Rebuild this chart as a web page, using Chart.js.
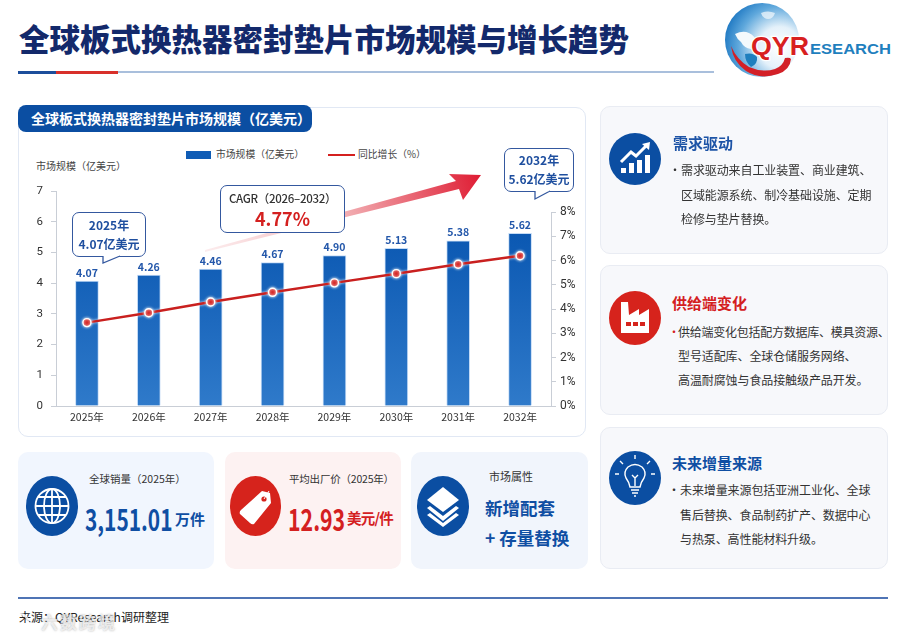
<!DOCTYPE html>
<html lang="zh">
<head>
<meta charset="utf-8">
<title>全球板式换热器密封垫片市场规模与增长趋势</title>
<script src="https://cdn.jsdelivr.net/npm/chart.js@4"></script>
<style>
html, body { margin: 0; padding: 0; background: #fff; }
body { width: 900px; height: 635px; position: relative; overflow: hidden; font-family: "Noto Sans CJK SC", "Noto Sans", sans-serif; color: #333; }
.box, .t, svg, canvas { position: absolute; }
.t { white-space: nowrap; line-height: 1; transform-origin: left center; }
.box { box-sizing: border-box; border-radius: 10px; }
.side { left: 600px; width: 288px; background: #f7f8fb; border: 1px solid #e9ecf3; }
.head { font-size: 15px; font-weight: 700; }
.body { font-size: 12px; color: #333; letter-spacing: -0.1px; }
.call { background: #fff; border: 1.3px solid #34589f; border-radius: 7px; }
.blue { color: #0f4ea3; }
.red { color: #d4201f; }
</style>
</head>
<body>
<!-- title -->
<div class="t" style="left:19px;top:23px;font-size:30.5px;font-weight:900;color:#13296b">全球板式换热器密封垫片市场规模与增长趋势</div>
<div class="box" style="left:18px;top:71px;width:696px;height:2px;border-radius:0;background:#a9bfdc"></div>
<div class="box" style="left:18px;top:71px;width:38px;height:3px;border-radius:0;background:#1c4e9b"></div>
<div class="box" style="left:56px;top:71px;width:62px;height:3px;border-radius:0;background:#d8302a"></div>

<!-- logo -->
<svg style="left:720px;top:0" width="180" height="84" viewBox="720 0 180 84">
  <defs>
    <radialGradient id="globe" cx="0.74" cy="0.6" r="0.8">
      <stop offset="0" stop-color="#ffffff"/><stop offset="0.35" stop-color="#e4f1fa"/><stop offset="0.7" stop-color="#5fa8dc"/><stop offset="1" stop-color="#1672bf"/>
    </radialGradient>
  </defs>
  <circle cx="762" cy="40" r="37" fill="url(#globe)"/>
  <path d="M761 13 q7-3 14 0 q-2 6-7 6 q-5 0-7-6z" fill="#e9f3fa" opacity="0.8"/>
  <path d="M735 34 q8-4 14-1 q7 3 6 9 q-5 2-4 7 q-7-1-10-7 q-4-3-6-8z" fill="#f4f9fc"/>
  <path d="M745 54 q8-2 12 3 q1 7-6 10 q-6-5-6-13z" fill="#1f7fbe"/>
  <path d="M731 46 q6 14 18 21 q14 6 26 2 q8-3 10-11 q5-1 6 1 q-1 11-13 15 q-18 6-32-3 q-13-9-15-25z" fill="#d32027"/>
  <text x="751" y="55" font-family="Liberation Sans" font-size="25" font-weight="700" fill="#d8201f" stroke="#fff" stroke-width="2.4" paint-order="stroke" textLength="58" lengthAdjust="spacingAndGlyphs">QYR</text>
  <text x="810" y="54" font-family="Liberation Sans" font-size="15.5" font-weight="700" fill="#1f7fbe" textLength="81" lengthAdjust="spacingAndGlyphs">ESEARCH</text>
</svg>

<!-- main panel -->
<div class="box" style="left:18px;top:107px;width:568px;height:330px;border:1.5px solid #e1e8f4"></div>
<div class="box" style="left:18px;top:105px;width:294px;height:27px;background:#0b4ea2;border-radius:8px"></div>
<div class="t" style="left:31px;top:111px;font-size:14px;font-weight:700;color:#fff">全球板式换热器密封垫片市场规模（亿美元）</div>

<div class="t" style="left:36px;top:161px;font-size:10px;color:#444">市场规模（亿美元）</div>
<div class="box" style="left:186px;top:151px;width:25px;height:8px;border-radius:0;background:#0f5cb5"></div>
<div class="t" style="left:216px;top:150px;font-size:9.8px;color:#444">市场规模（亿美元）</div>
<div class="box" style="left:328px;top:154px;width:27px;height:2px;border-radius:0;background:#d4201f"></div>
<div class="t" style="left:358px;top:150px;font-size:9.8px;color:#444">同比增长（%）</div>

<!-- arrow sits behind the chart -->
<svg style="left:0;top:0" width="900" height="635">
  <defs>
    <linearGradient id="arrowFill" gradientUnits="userSpaceOnUse" x1="205" y1="250" x2="481" y2="176">
      <stop offset="0" stop-color="#f6c9cc" stop-opacity="0.35"/>
      <stop offset="0.5" stop-color="#f2b0b4"/>
      <stop offset="1" stop-color="#df1c33"/>
    </linearGradient>
  </defs>
  <path d="M205 250 L456 181 L449 174 L481 175 L463 200 L459 189 L205 252 Z" fill="url(#arrowFill)"/>
</svg>

<canvas id="marketChart" width="568" height="257" style="left:18px;top:180px"></canvas>

<!-- callouts -->
<div class="box call" style="left:72px;top:212px;width:74px;height:45px"></div>
<svg style="left:100px;top:255px" width="24" height="10"><path d="M3 1 L3 8 L20 1" fill="#fff" stroke="#34589f" stroke-width="1.3"/><path d="M4 0 H19 V1 H4z" fill="#fff"/></svg>
<div class="t" style="left:72px;width:74px;text-align:center;top:219px;font-size:12px;font-weight:700;color:#1f4f9f">2025年</div>
<div class="t" style="left:72px;width:74px;text-align:center;top:238px;font-size:12px;font-weight:700;color:#1f4f9f">4.07亿美元</div>

<div class="box call" style="left:504px;top:148px;width:70px;height:44px"></div>
<svg style="left:532px;top:190px" width="24" height="11"><path d="M3 1 L3 9 L18 1" fill="#fff" stroke="#34589f" stroke-width="1.3"/><path d="M4 0 H17 V1.2 H4z" fill="#fff"/></svg>
<div class="t" style="left:504px;width:70px;text-align:center;top:154px;font-size:12px;font-weight:700;color:#1f4f9f">2032年</div>
<div class="t" style="left:504px;width:70px;text-align:center;top:173px;font-size:12px;font-weight:700;color:#1f4f9f">5.62亿美元</div>

<div class="box call" style="left:220px;top:185px;width:125px;height:48px"></div>
<div class="t" style="left:220px;width:125px;text-align:center;top:193px;font-size:11.5px;letter-spacing:-0.3px;font-weight:500;color:#333">CAGR（2026–2032）</div>
<div class="t" style="left:220px;width:125px;text-align:center;top:209px;font-size:18px;font-weight:700;color:#d4201f">4.77%</div>

<!-- bottom cards -->
<div class="box" style="left:18px;top:452px;width:196px;height:117px;background:#f1f6fe"></div>
<svg style="left:26px;top:476px" width="52" height="60" viewBox="0 0 52 60">
  <ellipse cx="26" cy="30" rx="26" ry="30" fill="#0b4ea2"/>
  <g fill="none" stroke="#fff" stroke-width="1.8">
    <ellipse cx="26" cy="30" rx="16.5" ry="17"/><ellipse cx="26" cy="30" rx="8" ry="17"/>
    <path d="M26 13V47M9.5 30H42.5M12 21H40M12 39H40"/>
  </g>
</svg>
<div class="t" style="left:89px;top:474px;font-size:10.5px;color:#333">全球销量（2025年）</div>
<div class="t blue" style="left:85px;top:504px;font-size:29px;font-weight:700;transform:scaleX(0.72)">3,151.01</div>
<div class="t blue" style="left:175px;top:511px;font-size:15px;font-weight:700">万件</div>

<div class="box" style="left:225px;top:452px;width:176px;height:117px;background:#fdf2f2"></div>
<svg style="left:230px;top:476px" width="51" height="60" viewBox="0 0 51 60">
  <ellipse cx="25.5" cy="30" rx="25.5" ry="30" fill="#d6231c"/>
  <path d="M32 15 L40 17 L41 27 L24 48 Q22 49 20 47 L10 38 Q9 36 11 34 Z" fill="#fff"/>
  <circle cx="34" cy="23" r="2.6" fill="#d6231c"/>
  <path d="M34 23 L39 15" stroke="#fff" stroke-width="1"/>
</svg>
<div class="t" style="left:289px;top:474px;font-size:10.5px;letter-spacing:-0.2px;color:#333">平均出厂价（2025年）</div>
<div class="t red" style="left:288px;top:503px;font-size:30px;font-weight:700;transform:scaleX(0.71)">12.93</div>
<div class="t red" style="left:347px;top:511px;font-size:14.5px;font-weight:700;letter-spacing:-0.8px">美元/件</div>

<div class="box" style="left:411px;top:452px;width:177px;height:117px;background:#f1f5fc"></div>
<svg style="left:417px;top:476px" width="52" height="60" viewBox="0 0 52 60">
  <ellipse cx="26" cy="30" rx="26" ry="30" fill="#0b4ea2"/>
  <path d="M26 11 L42 24 L26 36 L10 24 Z" fill="#fff"/>
  <path d="M13 30 L26 40 L39 30 L42 32 L26 45 L10 32 Z" fill="#fff"/>
  <path d="M13 38 L26 48 L39 38 L42 40 L26 52 L10 40 Z" fill="#fff" transform="translate(0,-1)"/>
</svg>
<div class="t" style="left:489px;top:471px;font-size:11px;color:#333">市场属性</div>
<div class="t blue" style="left:485px;top:499px;font-size:17.5px;font-weight:700">新增配套</div>
<div class="t blue" style="left:485px;top:529px;font-size:17.5px;font-weight:700">+ 存量替换</div>

<!-- right cards -->
<div class="box side" style="top:106px;height:148px"></div>
<svg style="left:609px;top:133px" width="52" height="52" viewBox="0 0 52 52">
  <circle cx="26" cy="26" r="26" fill="#0b4ea2"/>
  <path d="M12 40V35H17V40ZM20 40V30H25V40ZM28 40V27H33V40ZM36 40V22H41V40Z" fill="#fff"/>
  <path d="M12 29 L22 19 L27 23 L38 12" fill="none" stroke="#fff" stroke-width="3"/>
  <path d="M33 11 L41 9 L40 17 Z" fill="#fff"/>
</svg>
<div class="t head" style="left:673px;top:135px;color:#1c53a6">需求驱动</div>
<div class="t body" style="left:669px;top:164px">•</div>
<div class="t body" style="left:681px;top:164px">需求驱动来自工业装置、商业建筑、</div>
<div class="t body" style="left:681px;top:189px">区域能源系统、制冷基础设施、定期</div>
<div class="t body" style="left:681px;top:213px">检修与垫片替换。</div>

<div class="box side" style="top:265px;height:150px"></div>
<svg style="left:609px;top:291px" width="52" height="54" viewBox="0 0 52 54">
  <ellipse cx="26" cy="27" rx="26" ry="27" fill="#d6231c"/>
  <path d="M12 42 V11 H19 L20 24 L30 18 V24 L40 18 V42 Z" fill="#fff"/>
  <path d="M17 31H22V35H17ZM24 31H29V35H24ZM31 31H36V35H31Z" fill="#d6231c"/>
</svg>
<div class="t head" style="left:672px;top:295px;color:#d4201f">供给端变化</div>
<div class="t body red" style="left:668px;top:326px">•</div>
<div class="t body" style="left:678px;top:326px;letter-spacing:-0.25px">供给端变化包括配方数据库、模具资源、</div>
<div class="t body" style="left:678px;top:350px">型号适配库、全球仓储服务网络、</div>
<div class="t body" style="left:678px;top:374px">高温耐腐蚀与食品接触级产品开发。</div>

<div class="box side" style="top:427px;height:142px"></div>
<svg style="left:609px;top:451px" width="52" height="54" viewBox="0 0 52 54">
  <ellipse cx="26" cy="27" rx="26" ry="27" fill="#0b4ea2"/>
  <g fill="none" stroke="#fff" stroke-width="1.4">
    <path d="M21 36 Q20 31 17 27 Q14 21 19 16 Q26 11 33 16 Q38 21 35 27 Q32 31 31 36 Z"/>
    <path d="M22 39H30M23 42H29M25 45H27M23 24 L26 27 L29 24 M26 27V35"/>
    <path d="M26 4V8M11 10L14 13M41 10L38 13M6 23H10M46 23H42"/>
  </g>
</svg>
<div class="t head" style="left:672px;top:455px;color:#0f4ea3">未来增量来源</div>
<div class="t body" style="left:668px;top:484px">•</div>
<div class="t body" style="left:680px;top:484px">未来增量来源包括亚洲工业化、全球</div>
<div class="t body" style="left:680px;top:509px">售后替换、食品制药扩产、数据中心</div>
<div class="t body" style="left:680px;top:533px">与热泵、高性能材料升级。</div>

<!-- footer -->
<div class="box" style="left:18px;top:597px;width:870px;height:1.5px;border-radius:0;background:#4f74b5"></div>
<div class="t" style="left:19px;top:611px;font-size:12px;color:#222">来源：QYResearch调研整理</div>
<svg style="left:6px;top:610px" width="28" height="24"><circle cx="14" cy="12" r="8" fill="none" stroke="rgba(255,255,255,0.8)" stroke-width="2.5"/></svg>
<div class="t" style="left:41px;top:613px;font-size:17px;font-weight:700;letter-spacing:2px;color:rgba(255,255,255,0.7);text-shadow:0 0 2px rgba(90,90,90,0.5)">六数跨境</div>

<script>
var categories = ['2025年', '2026年', '2027年', '2028年', '2029年', '2030年', '2031年', '2032年'];
var marketSize = [4.07, 4.26, 4.46, 4.67, 4.90, 5.13, 5.38, 5.62];
var yoyGrowth = [3.44, 3.85, 4.29, 4.69, 5.08, 5.46, 5.85, 6.20];
var sizeAxisMax = 7;
var growthTickMax = 8;
// the % axis stops lower than the size axis, 8% sits under the 7 tick
var growthAxisMax = 8.87;

var barGradient = function (context) {
    var area = context.chart.chartArea;
    if (!area) {
        return '#0f5cb5';
    }
    var gradient = context.chart.ctx.createLinearGradient(0, context.chart.scales.y.getPixelForValue(5.6), 0, area.bottom);
    gradient.addColorStop(0, '#0b58b2');
    gradient.addColorStop(1, '#2f7aca');
    return gradient;
};

// value labels over the bars, short axis line for the % scale, glow on the line
var chartExtras = {
    id: 'chartExtras',
    beforeDatasetDraw: function (chart, args) {
        if (args.index === 0) {
            chart.ctx.save();
            chart.ctx.shadowColor = 'rgba(255,255,255,0.95)';
            chart.ctx.shadowBlur = 3;
        }
    },
    afterDatasetDraw: function (chart, args) {
        if (args.index === 0) {
            chart.ctx.restore();
        }
    },
    afterDraw: function (chart) {
        var ctx = chart.ctx;
        var right = chart.scales.y1;
        ctx.save();
        ctx.strokeStyle = '#c9ced6';
        ctx.lineWidth = 1;
        ctx.beginPath();
        ctx.moveTo(right.left + 0.5, right.getPixelForValue(growthTickMax));
        ctx.lineTo(right.left + 0.5, right.getPixelForValue(0));
        ctx.stroke();
        ctx.font = '700 10.5px "Noto Sans CJK SC"';
        ctx.fillStyle = '#2357aa';
        ctx.textAlign = 'center';
        ctx.textBaseline = 'bottom';
        chart.getDatasetMeta(1).data.forEach(function (bar, i) {
            ctx.fillText(marketSize[i].toFixed(2), bar.x, bar.y - 3);
        });
        ctx.restore();
    }
};

new Chart(document.getElementById('marketChart'), {
    data: {
        labels: categories,
        datasets: [
            {
                type: 'line',
                label: '同比增长（%）',
                data: yoyGrowth,
                yAxisID: 'y1',
                order: 1,
                borderColor: '#c9201f',
                borderWidth: 2.5,
                tension: 0,
                pointRadius: 4,
                pointBackgroundColor: '#d4201f',
                pointBorderColor: '#fff',
                pointBorderWidth: 1.4
            },
            {
                type: 'bar',
                label: '市场规模（亿美元）',
                data: marketSize,
                yAxisID: 'y',
                order: 2,
                barThickness: 23,
                backgroundColor: barGradient,
                borderColor: 'rgba(190,215,245,0.9)',
                borderWidth: 1
            }
        ]
    },
    options: {
        responsive: false,
        animation: false,
        layout: { padding: { top: 11, left: 0, right: 0, bottom: 0 } },
        plugins: { legend: { display: false }, tooltip: { enabled: false } },
        scales: {
            x: {
                grid: { display: false, drawTicks: false },
                border: { color: '#c9ced6' },
                ticks: { color: '#333', font: { size: 10.5, family: '"Noto Sans CJK SC"' }, padding: 5, maxRotation: 0 },
                afterFit: function (scale) { scale.height = 31; }
            },
            y: {
                position: 'left',
                min: 0,
                max: sizeAxisMax,
                grid: { drawOnChartArea: false, tickLength: 5, color: '#c9ced6' },
                border: { color: '#c9ced6' },
                ticks: { stepSize: 1, color: '#333', font: { size: 11.5, family: 'Roboto' }, padding: 8 },
                afterFit: function (scale) { scale.width = 38; scale.paddingTop = 0; }
            },
            y1: {
                position: 'right',
                min: 0,
                max: growthAxisMax,
                grid: { drawOnChartArea: false, tickLength: 5, color: '#c9ced6' },
                border: { display: false },
                ticks: {
                    stepSize: 1,
                    color: '#333',
                    font: { size: 12, family: 'Roboto' },
                    padding: 4,
                    callback: function (value) { return value + '%'; }
                },
                afterBuildTicks: function (scale) {
                    scale.ticks = scale.ticks.filter(function (tick) { return tick.value <= growthTickMax; });
                },
                afterFit: function (scale) { scale.width = 35; scale.paddingTop = 0; }
            }
        }
    },
    plugins: [chartExtras]
});
</script>
</body>
</html>
